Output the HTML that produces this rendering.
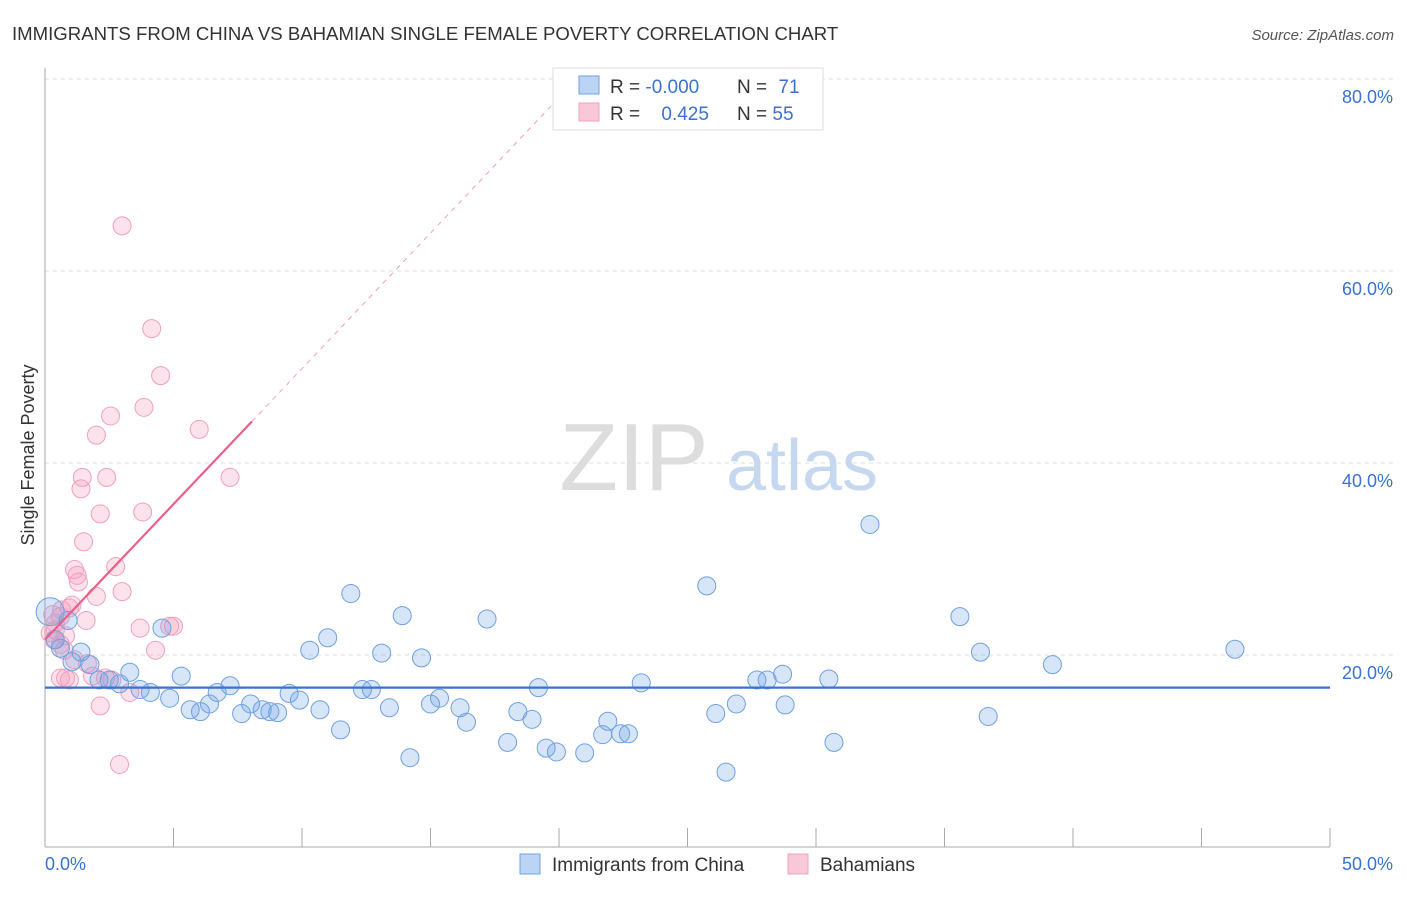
<!DOCTYPE html>
<html><head><meta charset="utf-8"><style>
body{margin:0;background:#fff;font-family:"Liberation Sans",sans-serif;}
svg text{font-family:"Liberation Sans",sans-serif;}
</style></head><body>
<svg id="chart" width="1406" height="892" viewBox="0 0 1406 892">
<text x="12" y="40" font-size="18.6" fill="#333">IMMIGRANTS FROM CHINA VS BAHAMIAN SINGLE FEMALE POVERTY CORRELATION CHART</text>
<text x="1394" y="40" font-size="15" fill="#555" font-style="italic" text-anchor="end">Source: ZipAtlas.com</text>
<g id="grid"></g>
<g>
<text x="634" y="490" font-size="96" fill="#ddd" text-anchor="middle" font-family="Liberation Serif">ZIP</text>
<text x="802" y="490" font-size="72" fill="#c6d8f0" text-anchor="middle">atlas</text>
</g>
<line x1="45" y1="68" x2="45" y2="847" stroke="#aaa"/>
<line x1="45" y1="847" x2="1330" y2="847" stroke="#aaa"/>
<g id="xticks"></g>
<g id="yticks"></g>
<text x="45" y="870" font-size="18" fill="#3a72d0">0.0%</text>
<text x="1393" y="870" font-size="18" fill="#3a72d0" text-anchor="end">50.0%</text>
<text transform="translate(34,455) rotate(-90)" font-size="18" fill="#333" text-anchor="middle">Single Female Poverty</text>
<g id="pinkpts"></g>
<g id="bluepts"></g>
<g id="trends"></g>
<g>
<rect x="553" y="68" width="270" height="62" fill="#fff" stroke="#ddd"/>
<rect x="579" y="76" width="20" height="18" fill="#bcd4f4" stroke="#6fa0e0"/>
<rect x="579" y="103" width="20" height="18" fill="#f9c8d8" stroke="#f0a0bc"/>
<text x="610" y="93" font-size="19" fill="#333">R = <tspan fill="#3a72d0">-0.000</tspan></text>
<text x="737" y="93" font-size="19" fill="#333">N = <tspan fill="#3a72d0" dx="6">71</tspan></text>
<text x="610" y="120" font-size="19" fill="#333">R = <tspan fill="#3a72d0" dx="16">0.425</tspan></text>
<text x="737" y="120" font-size="19" fill="#333">N = <tspan fill="#3a72d0">55</tspan></text>
</g>
<g>
<rect x="520" y="854" width="20" height="20" fill="#bcd4f4" stroke="#6fa0e0"/>
<text x="552" y="871" font-size="19" fill="#333">Immigrants from China</text>
<rect x="788" y="854" width="20" height="20" fill="#f9c8d8" stroke="#f0a0bc"/>
<text x="820" y="871" font-size="19" fill="#333">Bahamians</text>
</g>
</svg>
<script>
const yTicks=[20,40,60,80];
const xTickVals=[0,5,10,15,20,25,30,35,40,45,50];
const blueX=[0.2,0.4,0.6,0.9,1.05,1.4,1.75,2.1,2.5,2.9,3.3,3.7,4.1,4.55,4.85,5.3,5.65,6.05,6.4,6.7,7.2,7.65,8.0,8.45,8.75,9.05,9.5,9.9,10.3,10.7,11.0,11.5,11.9,12.35,12.7,13.1,13.4,13.9,14.2,14.65,15.0,15.35,16.15,16.4,17.2,18.0,18.4,18.95,19.2,19.5,19.9,21.0,21.7,21.9,22.4,22.7,23.2,25.75,26.1,26.5,26.9,27.7,28.1,28.7,28.8,30.5,30.7,32.1,35.6,36.4,36.7,39.2,46.3];
const blueY=[24.5,21.6,20.7,23.6,19.3,20.3,19.0,17.4,17.4,17.0,18.2,16.4,16.1,22.8,15.5,17.8,14.3,14.1,14.9,16.1,16.8,13.9,14.9,14.3,14.1,14.0,16.0,15.3,20.5,14.3,21.8,12.2,26.4,16.4,16.4,20.2,14.5,24.1,9.3,19.7,14.9,15.5,14.5,13.0,23.75,10.9,14.1,13.3,16.6,10.3,9.9,9.8,11.7,13.1,11.8,11.8,17.1,27.2,13.9,7.8,14.9,17.4,17.4,18.0,14.8,17.5,10.9,33.6,24.0,20.3,13.6,19.0,20.6];
const pinkX=[3.0,4.15,4.5,3.85,2.55,6.0,2.0,1.45,2.4,7.2,1.4,2.15,3.8,1.5,1.15,2.75,1.25,1.3,3.0,2.0,1.05,0.95,1.6,3.7,5.0,4.85,0.4,0.4,0.2,0.8,0.35,0.6,0.75,4.3,1.15,1.65,1.85,0.6,0.8,0.95,2.35,2.6,2.15,3.3,2.9,0.6,0.3,0.65];
const pinkY=[64.7,54.0,49.1,45.8,44.9,43.5,42.9,38.5,38.5,38.5,37.3,34.7,34.9,31.8,28.9,29.2,28.3,27.6,26.6,26.1,25.2,24.9,23.6,22.8,23.0,23.0,23.3,22.6,22.3,22.0,21.6,21.1,20.5,20.5,19.5,19.1,17.8,17.6,17.6,17.4,17.6,17.4,14.7,16.1,8.6,24.0,24.2,24.7];
const blueTrend=[16.6,16.6];
const pinkTrend=[21.6,2.823];
const NS='http://www.w3.org/2000/svg';
const sx=v=>45+v*25.7, sy=v=>847-v*9.6;
function mk(tag,attrs,parent){const e=document.createElementNS(NS,tag);for(const k in attrs)e.setAttribute(k,attrs[k]);parent.appendChild(e);return e;}
const grid=document.getElementById('grid'),yt=document.getElementById('yticks'),xt=document.getElementById('xticks');
yTicks.forEach(v=>{
 const l=mk('line',{x1:45,x2:1394,y1:sy(v),y2:sy(v),stroke:'#ddd','stroke-dasharray':'4,4'},grid);
 
 
 const t=mk('text',{x:1393,y:sy(v)+24,'font-size':18,fill:'#3a72d0','text-anchor':'end'},yt);
 t.textContent=v.toFixed(1)+'%';
 
 
});
xTickVals.forEach(v=>{
 const l=mk('line',{x1:sx(v),x2:sx(v),y1:828,y2:847,stroke:'#aaa'},xt);
 
 
});
const pp=document.getElementById('pinkpts');
pinkX.forEach((x,i)=>{
 const c=mk('circle',{cx:sx(x),cy:sy(pinkY[i]),r:9,fill:'rgba(244,160,190,0.3)',stroke:'#f0a0bc','stroke-width':1},pp);
 
 
});
const bp=document.getElementById('bluepts');
blueX.forEach((x,i)=>{
 const c=mk('circle',{cx:sx(x),cy:sy(blueY[i]),r:i===0?14:9,fill:'rgba(110,160,230,0.28)',stroke:'#6fa0e0','stroke-width':1},bp);
 
 
});
const tg=document.getElementById('trends');
const bl=mk('line',{x1:sx(0),x2:sx(50),y1:sy(blueTrend[0]),y2:sy(blueTrend[1]),stroke:'#3a72d0','stroke-width':2.2},tg);


const pf=x=>pinkTrend[0]+pinkTrend[1]*x;
const pl=mk('line',{x1:sx(0),x2:sx(8.05),y1:sy(pf(0)),y2:sy(pf(8.05)),stroke:'#e8608a','stroke-width':2.2},tg);


const pd=mk('line',{x1:sx(8.05),x2:sx(20),y1:sy(pf(8.05)),y2:sy(pf(20)),stroke:'#f0a0bc','stroke-width':1,'stroke-dasharray':'5,5'},tg);


</script>
</body></html>
